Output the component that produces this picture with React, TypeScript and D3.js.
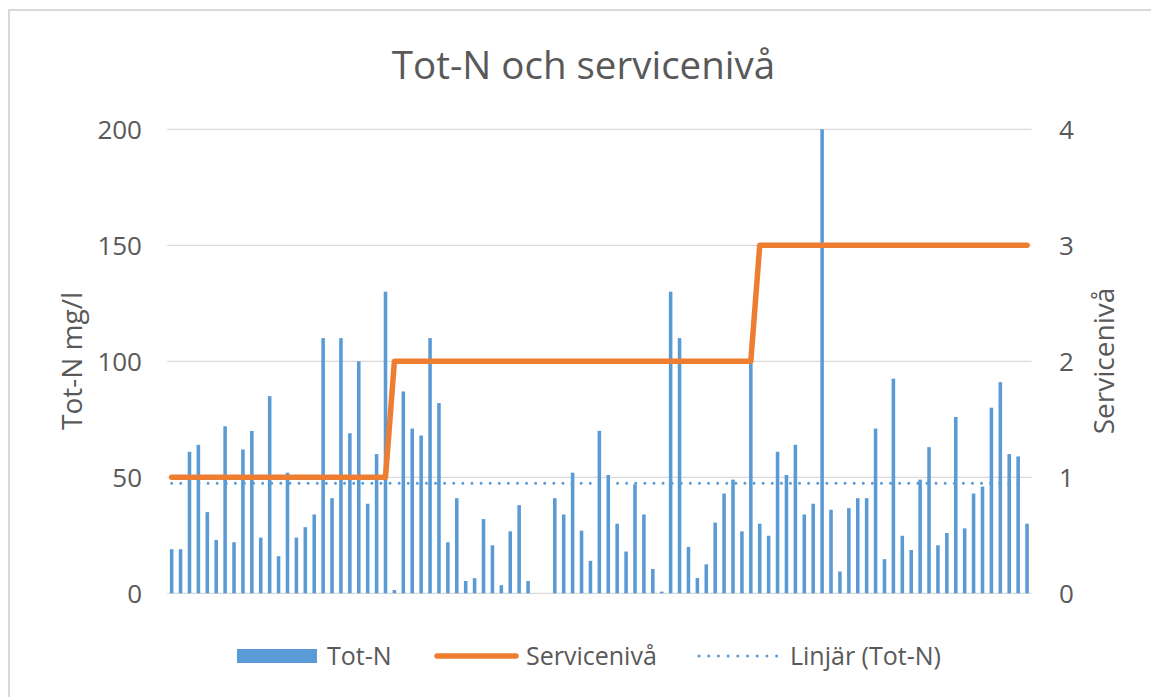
import React, { useEffect, useRef } from 'react';
import * as d3 from 'd3';

// Tot-N per sample (mg/l), null = no value
const totN: (number | null)[] = [
  19, 19, 61, 64, 35, 23, 72, 22, 62, 70, 24, 85, 16, 52, 24, 28.5, 34, 110, 41, 110,
  69, 100, 38.6, 60, 130, 1.4, 87, 71, 68, 110, 82, 22, 41, 5.3, 6.5, 32, 20.7, 3.5, 26.7, 38,
  5.3, null, null, 41, 34, 52, 27, 14, 70, 51, 30, 18, 47, 34, 10.5, 0.7, 130, 110, 20, 6.6,
  12.5, 30.5, 43, 49, 26.7, 100, 30, 24.8, 61, 51, 64, 34, 38.6, 200, 36, 9.4, 36.7, 41, 41, 71,
  14.7, 92.5, 24.8, 18.7, 49, 63, 20.7, 26, 76, 28, 43, 46, 80, 91, 60, 59, 30
];
// service level per sample
const serviceLevel: number[] = [
  1, 1, 1, 1, 1, 1, 1, 1, 1, 1, 1, 1, 1, 1, 1, 1, 1, 1, 1, 1, 1, 1, 1, 1, 1,
  2, 2, 2, 2, 2, 2, 2, 2, 2, 2, 2, 2, 2, 2, 2, 2, 2, 2, 2, 2, 2, 2, 2, 2, 2,
  2, 2, 2, 2, 2, 2, 2, 2, 2, 2, 2, 2, 2, 2, 2, 2,
  3, 3, 3, 3, 3, 3, 3, 3, 3, 3, 3, 3, 3, 3, 3, 3, 3, 3, 3, 3, 3, 3, 3, 3, 3, 3, 3, 3, 3, 3, 3
];
const leftTicks = [0, 50, 100, 150, 200];
const rightTicks = [0, 1, 2, 3, 4];
const title = 'Tot-N och servicenivå';
const legendItems = ['Tot-N', 'Servicenivå', 'Linjär (Tot-N)'];

const BLUE = '#5B9BD5';
const ORANGE = '#ED7D31';
const GRID = '#d9d9d9';
const TEXT = '#595959';
const FONT = "'Open Sans', 'Noto Sans', sans-serif";

export default function App() {
  const ref = useRef<SVGSVGElement | null>(null);

  useEffect(() => {
    const svg = d3.select(ref.current);
    svg.selectAll('*').remove();

    const left = 167.2, right = 1031.5, top = 129.3, bottom = 593.3;
    const idx = totN.map((_, i) => i);

    const x = d3.scaleBand<number>().domain(idx).range([left, right]).paddingInner(0.6).paddingOuter(0.3);
    const cx = (i: number) => (x(i) as number) + x.bandwidth() / 2;
    const yL = d3.scaleLinear().domain([0, 200]).range([bottom, top]);
    const yR = d3.scaleLinear().domain([0, 4]).range([bottom, top]);

    // chart border (only top/left visible in frame)
    svg.append('rect')
      .attr('x', 9).attr('y', 10).attr('width', 1300).attr('height', 900)
      .attr('fill', 'white').attr('stroke', GRID).attr('stroke-width', 2);

    // title
    svg.append('text')
      .attr('x', 583.5).attr('y', 79)
      .attr('text-anchor', 'middle')
      .style('font-family', FONT).style('font-size', '38.5px').attr('fill', TEXT)
      .text(title);

    // gridlines
    svg.append('g').selectAll('line').data(leftTicks).enter().append('line')
      .attr('x1', left).attr('x2', right)
      .attr('y1', d => yL(d)).attr('y2', d => yL(d))
      .attr('stroke', GRID).attr('stroke-width', 1.3);

    // left tick labels
    svg.append('g').selectAll('text').data(leftTicks).enter().append('text')
      .attr('x', 142).attr('y', d => yL(d)).attr('dy', '0.36em')
      .attr('text-anchor', 'end')
      .style('font-family', FONT).style('font-size', '26px').attr('fill', TEXT)
      .text(d => d);

    // right tick labels
    svg.append('g').selectAll('text').data(rightTicks).enter().append('text')
      .attr('x', 1059).attr('y', d => yR(d)).attr('dy', '0.36em')
      .attr('text-anchor', 'start')
      .style('font-family', FONT).style('font-size', '26px').attr('fill', TEXT)
      .text(d => d);

    // axis titles
    svg.append('text')
      .attr('transform', 'translate(82,361) rotate(-90)')
      .attr('text-anchor', 'middle')
      .style('font-family', FONT).style('font-size', '28px').attr('fill', TEXT)
      .text('Tot-N mg/l');
    svg.append('text')
      .attr('transform', 'translate(1114,361) rotate(-90)')
      .attr('text-anchor', 'middle')
      .style('font-family', FONT).style('font-size', '28px').attr('fill', TEXT)
      .text('Servicenivå');

    // bars
    svg.append('g').selectAll('rect')
      .data(idx.filter(i => totN[i] !== null))
      .enter().append('rect')
      .attr('x', i => x(i) as number)
      .attr('width', x.bandwidth())
      .attr('y', i => yL(totN[i] as number))
      .attr('height', i => bottom - yL(totN[i] as number))
      .attr('fill', BLUE);

    // linear trendline (least squares on x = 1..n, skipping blanks)
    const pts = idx.filter(i => totN[i] !== null).map(i => [i + 1, totN[i] as number]);
    const mx = d3.mean(pts, p => p[0]) as number;
    const my = d3.mean(pts, p => p[1]) as number;
    const slope = (d3.sum(pts, p => (p[0] - mx) * (p[1] - my))) / (d3.sum(pts, p => (p[0] - mx) ** 2));
    const icpt = my - slope * mx;
    const n = totN.length;
    svg.append('line')
      .attr('x1', cx(0)).attr('x2', cx(n - 1))
      .attr('y1', yL(icpt + slope * 1)).attr('y2', yL(icpt + slope * n))
      .attr('stroke', BLUE).attr('stroke-width', 3)
      .attr('stroke-linecap', 'round').attr('stroke-dasharray', '0 9.1');

    // service level line
    const line = d3.line<number>().x((_, i) => cx(i)).y(d => yR(d));
    svg.append('path')
      .attr('d', line(serviceLevel) as string)
      .attr('fill', 'none').attr('stroke', ORANGE).attr('stroke-width', 5.5)
      .attr('stroke-linejoin', 'round').attr('stroke-linecap', 'round');

    // legend
    const ly = 656;
    const lg = svg.append('g');
    lg.append('rect').attr('x', 237).attr('y', ly - 7).attr('width', 80).attr('height', 14).attr('fill', BLUE);
    lg.append('line').attr('x1', 437).attr('x2', 516).attr('y1', ly).attr('y2', ly)
      .attr('stroke', ORANGE).attr('stroke-width', 5.5).attr('stroke-linecap', 'round');
    lg.append('line').attr('x1', 699).attr('x2', 777).attr('y1', ly).attr('y2', ly)
      .attr('stroke', BLUE).attr('stroke-width', 3).attr('stroke-linecap', 'round').attr('stroke-dasharray', '0 9.7');
    const lx = [327, 526, 790];
    lg.selectAll('text').data(legendItems).enter().append('text')
      .attr('x', (_, i) => lx[i]).attr('y', ly).attr('dy', '0.36em')
      .style('font-family', FONT).style('font-size', '25px').attr('fill', TEXT)
      .text(d => d);
  }, []);

  return (
    <svg ref={ref} width={1151} height={697}
      style={{ position: 'absolute', left: 0, top: 0, background: 'white' }} />
  );
}
